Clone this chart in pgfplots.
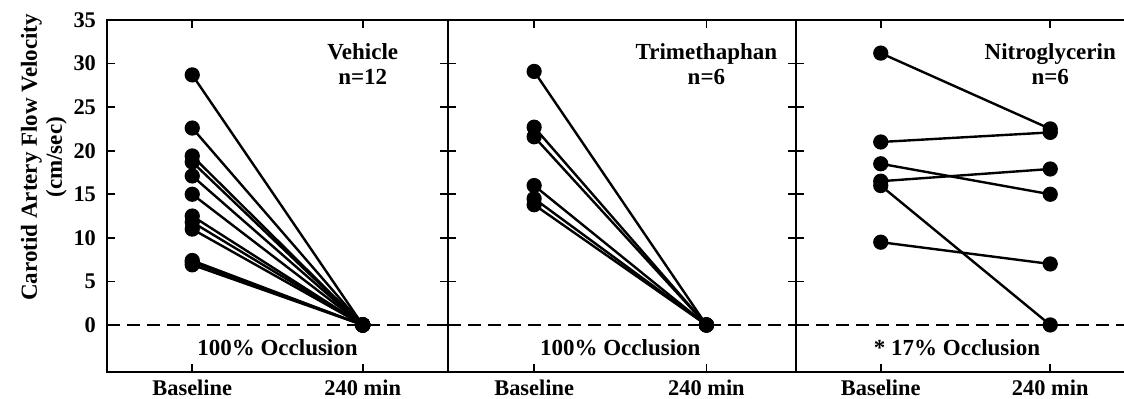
\documentclass[border=0pt]{standalone}
\usepackage{pgfplots}
\pgfplotsset{compat=1.18}
\usepackage{fontspec}
\setmainfont{Liberation Serif}
\tikzset{
  ln/.style={black, line width=1.2pt, mark=*, mark size=3.2pt, mark options={fill=black, solid}},
  zl/.style={black, dash pattern=on 6.5pt off 3.5pt, line width=0.9pt},
  lab/.style={font=\bfseries\fontsize{11.5}{12.5}\selectfont, align=center},
}
\pgfplotsset{
  panel/.style={
    scale only axis, height=176pt, ymin=-5.4, ymax=35,
    xmin=-0.5, clip=false,
    axis line style={line width=1pt},
    every tick/.style={line width=0.8pt, black},
    major tick length=4pt,
    xtick={0,1}, xticklabels={Baseline,240 min},
    ytick={0,5,...,35},
    tick label style={font=\bfseries\fontsize{11.2}{12}\selectfont},
    /pgf/number format/assume math mode=true,
    xticklabel style={yshift=-0.5pt},
    anchor=south west,
  },
}
\begin{document}
\begin{tikzpicture}
% Vehicle
\begin{axis}[panel, at={(0pt,0pt)}, width=170.5pt, xmax=1.5,
  yticklabel style={xshift=-2pt}]
\addplot[zl] coordinates {(-0.5,0) (1.5,0)};
\addplot[ln] coordinates {(0,28.7) (1,0)};
\addplot[ln] coordinates {(0,22.6) (1,0)};
\addplot[ln] coordinates {(0,19.4) (1,0)};
\addplot[ln] coordinates {(0,18.7) (1,0)};
\addplot[ln] coordinates {(0,17.1) (1,0)};
\addplot[ln] coordinates {(0,15.0) (1,0)};
\addplot[ln] coordinates {(0,12.5) (1,0)};
\addplot[ln] coordinates {(0,11.8) (1,0)};
\addplot[ln] coordinates {(0,11.0) (1,0)};
\addplot[ln] coordinates {(0,7.4) (1,0)};
\addplot[ln] coordinates {(0,7.2) (1,0)};
\addplot[ln] coordinates {(0,6.9) (1,0)};
\node[lab] at (axis cs:1,29.95) {Vehicle\\n=12};
\node[lab] at (axis cs:0.5,-2.6) {100\% Occlusion};
\node[lab, rotate=90] at (rel axis cs:-0.185,0.61) {Carotid Artery Flow Velocity\\(cm/sec)};
\end{axis}
% Trimethaphan
\begin{axis}[panel, at={(170.5pt,0pt)}, width=174pt, xmax=1.52, yticklabels={}]
\addplot[zl] coordinates {(-0.5,0) (1.52,0)};
\addplot[ln] coordinates {(0,29.1) (1,0)};
\addplot[ln] coordinates {(0,22.7) (1,0)};
\addplot[ln] coordinates {(0,21.6) (1,0)};
\addplot[ln] coordinates {(0,16.0) (1,0)};
\addplot[ln] coordinates {(0,14.5) (1,0)};
\addplot[ln] coordinates {(0,13.8) (1,0)};
\node[lab] at (axis cs:1,29.95) {Trimethaphan\\n=6};
\node[lab] at (axis cs:0.5,-2.6) {100\% Occlusion};
\end{axis}
% Nitroglycerin
\begin{axis}[panel, at={(344.5pt,0pt)}, width=169.5pt, xmax=1.5, yticklabels={}]
\addplot[zl] coordinates {(-0.5,0) (1.5,0)};
\addplot[ln] coordinates {(0,31.2) (1,22.5)};
\addplot[ln] coordinates {(0,21.0) (1,22.1)};
\addplot[ln] coordinates {(0,18.5) (1,15.0)};
\addplot[ln] coordinates {(0,16.5) (1,17.9)};
\addplot[ln] coordinates {(0,16.0) (1,0)};
\addplot[ln] coordinates {(0,9.5) (1,7.0)};
\node[lab] at (axis cs:1,29.95) {Nitroglycerin\\n=6};
\node[lab] at (axis cs:0.45,-2.6) {* 17\% Occlusion};
\end{axis}
\pgfresetboundingbox
\useasboundingbox (-53.5pt,-13pt) rectangle (508.5pt,186pt);
\end{tikzpicture}
\end{document}
